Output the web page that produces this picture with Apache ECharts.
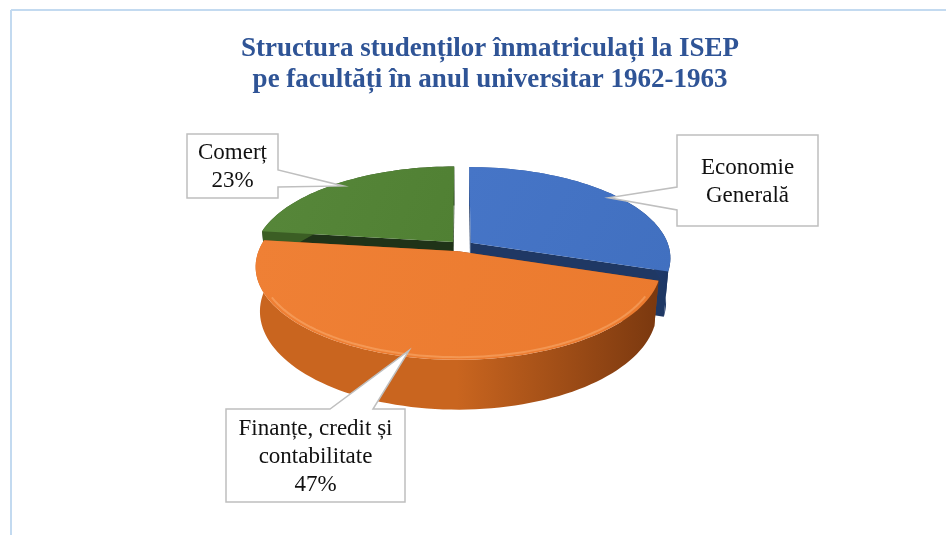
<!DOCTYPE html>
<html>
<head>
<meta charset="utf-8">
<script src="https://cdn.jsdelivr.net/npm/echarts@6/dist/echarts.min.js"></script>
<style>
  html, body { margin: 0; padding: 0; background: #fff; }
  #chart { width: 946px; height: 535px; }
</style>
</head>
<body>
<div id="chart"></div>
<script>
// data
const titleLines = ['Structura studenților înmatriculați la ISEP', 'pe facultăți în anul universitar 1962-1963'];
const categories = ['Economie Generală', 'Finanțe, credit și contabilitate', 'Comerț'];
const values = [30, 47, 23];
const labelLines = [['Economie', 'Generală'], ['Finanțe, credit și', 'contabilitate'], ['Comerț']];
const showPercent = [false, true, true];

// look of each slice: top face, outer side (light -> dark), radial cut face
const sliceColors = [
  { top: ['#4675c7', '#4170c0'], side: ['#2f5597', '#1c3563'], cut: '#1f3864' },
  { top: ['#ef8035', '#eb7a2e'], side: ['#c9651f', '#7a380f'], cut: '#8f4514' },
  { top: ['#57873a', '#508033'], side: ['#3b5e24', '#22391a'], cut: '#1f3318' }
];

// callout boxes (layout only)
const calloutLayout = [
  { box: [677, 135, 141, 91], side: 'left', base: [52, 75] },
  { box: [226, 409, 179, 93], side: 'top', base: [104, 147] },
  { box: [187, 134, 91, 64], side: 'right', base: [36, 53] }
];

// 3d view of the pie
const R = 198, H = 50, TILT = 26.7 * Math.PI / 180, DIST = 1090, EXPLODE = 12;
const CX = 461, CY = 246;

const total = values.reduce((a, b) => a + b, 0);

function project(X, Y, Z) {
  const yUp = Y * Math.cos(TILT) - Z * Math.sin(TILT);
  const depth = Z * Math.cos(TILT) + Y * Math.sin(TILT);
  const s = DIST / (DIST - depth);
  return [CX + X * s, CY - yUp * s];
}

function sliceAngles(idx) {
  let before = 0;
  for (let i = 0; i < idx; i++) before += values[i];
  const a0 = before / total * Math.PI * 2;
  const a1 = (before + values[idx]) / total * Math.PI * 2;
  return [a0, a1];
}

function renderItem(params, api) {
  const idx = params.dataIndex;
  const v = api.value(1);
  const [a0, a1] = sliceAngles(idx);
  const mid = (a0 + a1) / 2;
  const ex = EXPLODE * Math.sin(mid), ez = -EXPLODE * Math.cos(mid);
  const pt = (phi, r, Y) => project(ex + r * Math.sin(phi), Y, ez - r * Math.cos(phi));

  const steps = Math.max(8, Math.ceil((a1 - a0) / (Math.PI / 90)));
  const topArc = [], botArc = [];
  for (let k = 0; k <= steps; k++) {
    const phi = a0 + (a1 - a0) * k / steps;
    topArc.push(pt(phi, R, 0));
    botArc.push(pt(phi, R, -H));
  }
  const c = sliceColors[idx];
  // back slices first
  const zBase = Math.round((ez + EXPLODE) * 2);

  const children = [];
  // radial cut faces
  [a0, a1].forEach((phi) => {
    children.push({
      type: 'polygon',
      z2: zBase,
      shape: { points: [pt(phi, 0, 0), pt(phi, R, 0), pt(phi, R, -H), pt(phi, 0, -H)] },
      style: { fill: c.cut }
    });
  });
  // outer side
  children.push({
    type: 'polygon',
    z2: zBase + 1,
    shape: { points: topArc.concat(botArc.slice().reverse()) },
    style: {
      fill: new echarts.graphic.LinearGradient(0, 0, 1, 0, [
        { offset: 0, color: c.side[0] },
        { offset: 0.5, color: c.side[0] },
        { offset: 1, color: c.side[1] }
      ])
    }
  });
  // top face
  children.push({
    type: 'polygon',
    z2: zBase + 2,
    shape: { points: [pt(mid, 0, 0)].concat(topArc) },
    style: {
      fill: new echarts.graphic.LinearGradient(0, 0, 1, 1, [
        { offset: 0, color: c.top[0] },
        { offset: 1, color: c.top[1] }
      ])
    }
  });
  // soft highlight on the front rim
  const front = [];
  for (let k = 0; k <= steps; k++) {
    const phi = a0 + (a1 - a0) * k / steps;
    if (Math.cos(phi) < -0.45) front.push(pt(phi, R - 4, 0));
  }
  if (front.length > 1) {
    children.push({
      type: 'polyline',
      z2: zBase + 3,
      shape: { points: front },
      style: { stroke: 'rgba(255,200,150,0.35)', lineWidth: 2, fill: null }
    });
  }

  // callout
  const L = calloutLayout[idx];
  const [bx, by, bw, bh] = L.box;
  const tip = pt(mid, R * 0.95, 0);
  let poly;
  if (L.side === 'left') {
    poly = [[bx, by], [bx + bw, by], [bx + bw, by + bh], [bx, by + bh],
      [bx, by + L.base[1]], tip, [bx, by + L.base[0]]];
  } else if (L.side === 'right') {
    poly = [[bx, by], [bx + bw, by], [bx + bw, by + L.base[0]], tip,
      [bx + bw, by + L.base[1]], [bx + bw, by + bh], [bx, by + bh]];
  } else {
    poly = [[bx, by], [bx + L.base[0], by], tip, [bx + L.base[1], by],
      [bx + bw, by], [bx + bw, by + bh], [bx, by + bh]];
  }
  children.push({
    type: 'polygon',
    z2: 100,
    shape: { points: poly },
    style: { fill: '#ffffff', stroke: '#bfbfbf', lineWidth: 1.5 }
  });
  const lines = labelLines[idx].slice();
  if (showPercent[idx]) lines.push(Math.round(v / total * 100) + '%');
  children.push({
    type: 'text',
    z2: 101,
    x: bx + bw / 2,
    y: by + bh / 2 + 1,
    style: {
      text: lines.join('\n'),
      fill: '#111111',
      fontFamily: 'Liberation Serif',
      fontSize: 23,
      lineHeight: 28,
      align: 'center',
      verticalAlign: 'middle'
    }
  });

  return { type: 'group', children: children };
}

const chart = echarts.init(document.getElementById('chart'));

const option = {
  animation: false,
  title: {
    text: titleLines.join('\n'),
    left: 485,
    top: 29,
    textAlign: 'center',
    textStyle: {
      fontFamily: 'Liberation Serif',
      fontWeight: 'bold',
      fontSize: 27,
      lineHeight: 31,
      color: '#2f5496'
    }
  },
  graphic: [
    { type: 'line', shape: { x1: 11, y1: 10, x2: 946, y2: 10 }, style: { stroke: '#c3daf0', lineWidth: 2 } },
    { type: 'line', shape: { x1: 11, y1: 10, x2: 11, y2: 535 }, style: { stroke: '#c3daf0', lineWidth: 2 } }
  ],
  series: [
    {
      type: 'custom',
      name: 'Studenți',
      coordinateSystem: 'none',
      silent: true,
      data: values.map((v, i) => ({ name: categories[i], value: [i, v] })),
      renderItem: renderItem
    }
  ]
};

chart.setOption(option);
</script>
</body>
</html>
